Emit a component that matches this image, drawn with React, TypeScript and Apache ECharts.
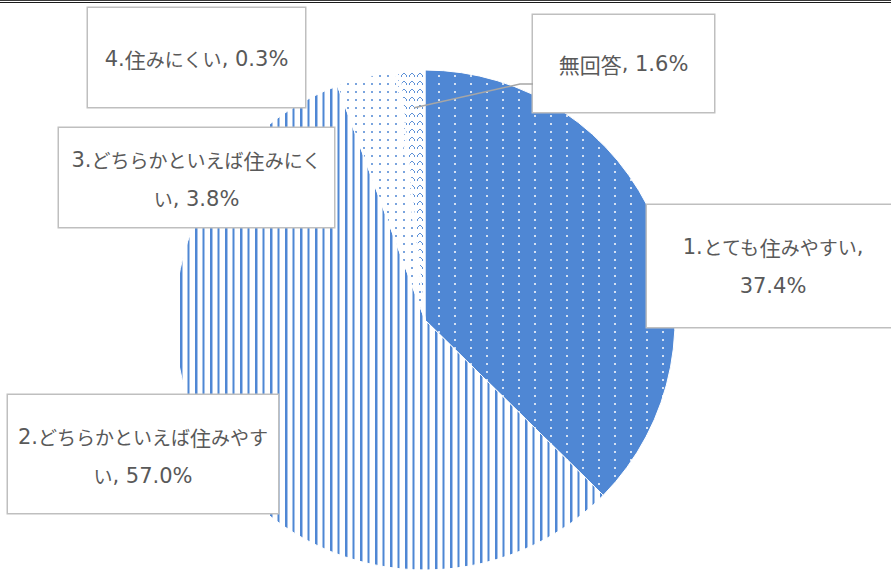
import React, { useEffect, useRef } from 'react';
import * as echarts from 'echarts';

// ---- data ----
const categories = [
  '1.とても住みやすい',
  '2.どちらかといえば住みやすい',
  '3.どちらかといえば住みにくい',
  '4.住みにくい',
  '無回答',
];
const values = [37.4, 57.0, 3.8, 0.3, 1.6];

// ---- layout (label boxes, px) ----
const labelBoxes = [
  { x: 647, y: 205, w: 252, padT: 22, padB: 22, wrap: 11, line: false },
  { x: 8, y: 395, w: 270, padT: 22, padB: 18, wrap: 14, line: false },
  { x: 59, y: 128, w: 275, padT: 12, padB: 9, wrap: 14, line: false },
  { x: 88, y: 8, w: 217, padT: 31, padB: 29, wrap: 0, line: false },
  { x: 533, y: 15, w: 181, padT: 29, padB: 29, wrap: 0, line: true },
];
const CENTER = [425, 320];
const RADIUS = 250;
const BLUE = '#4F87D4';
const TEXT = '#595959';
const CJK = '"Noto Sans CJK JP", sans-serif';

function makePattern(w: number, h: number, draw: (ctx: CanvasRenderingContext2D) => void) {
  const c = document.createElement('canvas');
  c.width = w;
  c.height = h;
  const ctx = c.getContext('2d')!;
  draw(ctx);
  return { image: c.toDataURL(), repetition: 'repeat', imageWidth: w, imageHeight: h } as any;
}

function toRich(s: string) {
  return s.replace(
    /([\u4E00-\u9FFF]+)|([\u3040-\u30FF]+)|([^\u3040-\u30FF\u4E00-\u9FFF\n]+)/g,
    (_m, k, h, l) => (k ? `{k|${k}}` : h ? `{h|${h}}` : `{l|${l}}`)
  );
}

export default function App() {
  const ref = useRef<HTMLDivElement>(null);
  useEffect(() => {
    if (!ref.current) return;
    const chart = echarts.init(ref.current, undefined, { renderer: 'svg' });

    const p1 = makePattern(16, 8, (ctx) => {
      ctx.fillStyle = BLUE;
      ctx.fillRect(0, 0, 16, 8);
      ctx.fillStyle = '#D3E0F3';
      ctx.fillRect(6, 3, 2, 2);
    });
    const p2 = makePattern(15, 8, (ctx) => {
      ctx.fillStyle = '#FFFFFF';
      ctx.fillRect(0, 0, 15, 8);
      ctx.fillStyle = BLUE;
      ctx.fillRect(0, 0, 2, 8);
      ctx.fillRect(7.5, 0, 2, 8);
      ctx.fillStyle = '#A8C3EA';
      ctx.fillRect(2, 0, 1, 8);
    });
    const p3 = makePattern(8, 8, (ctx) => {
      ctx.fillStyle = '#FFFFFF';
      ctx.fillRect(0, 0, 8, 8);
      ctx.fillStyle = '#7AA4DE';
      ctx.fillRect(3, 3, 2, 2);
    });
    const p4 = makePattern(6, 6, (ctx) => {
      ctx.fillStyle = '#FFFFFF';
      ctx.fillRect(0, 0, 6, 6);
      ctx.fillStyle = '#8FB2E4';
      ctx.fillRect(2, 2, 1, 1);
    });
    const p5 = makePattern(8, 8, (ctx) => {
      ctx.fillStyle = '#FFFFFF';
      ctx.fillRect(0, 0, 8, 8);
      ctx.fillStyle = '#5E92D8';
      ctx.fillRect(3, 1, 2, 1);
      ctx.fillRect(2, 2, 1, 1);
      ctx.fillRect(5, 2, 1, 1);
      ctx.fillRect(1, 3, 1, 2);
      ctx.fillRect(6, 3, 1, 2);
    });
    const patterns = [p1, p2, p3, p4, p5];

    const data = categories.map((name, i) => {
      const b = labelBoxes[i];
      return {
        name,
        value: values[i],
        itemStyle: { color: patterns[i] },
        label: {
          width: b.w,
          padding: [b.padT, 0, b.padB, 0],
        },
      };
    });

    // leader line for labels flagged with `line`, from the slice's mid angle
    const total = values.reduce((a, v) => a + v, 0);
    const leaders: any[] = [];
    let acc = 0;
    values.forEach((v, i) => {
      const b = labelBoxes[i];
      const mid = ((acc + v / 2) / total) * Math.PI * 2;
      acc += v;
      if (!b.line) return;
      const r = RADIUS * 0.85;
      const sx = CENTER[0] + r * Math.sin(mid);
      const sy = CENTER[1] - r * Math.cos(mid);
      const ey = b.y + 69;
      leaders.push({
        type: 'polyline',
        z: 100,
        silent: true,
        shape: { points: [[sx, sy], [b.x - 13, ey], [b.x, ey]] },
        style: { stroke: '#A6A6A6', lineWidth: 1.5, fill: null },
      });
    });

    const richBase = { lineHeight: 39, color: TEXT };

    chart.setOption({
      animation: false,
      backgroundColor: '#FFFFFF',
      graphic: [
        { type: 'rect', shape: { x: 0, y: 0, width: 891, height: 1 }, style: { fill: '#3A3A3A' }, silent: true },
        { type: 'rect', shape: { x: 0, y: 2, width: 891, height: 1 }, style: { fill: '#1A1A1A' }, silent: true },
        ...leaders,
      ],
      series: [
        {
          type: 'pie',
          center: CENTER,
          radius: RADIUS,
          startAngle: 90,
          clockwise: true,
          silent: true,
          avoidLabelOverlap: false,
          emphasis: { disabled: true },
          itemStyle: { borderColor: '#FFFFFF', borderWidth: 1 },
          label: {
            show: true,
            position: 'outside',
            color: TEXT,
            fontSize: 19,
            lineHeight: 39,
            fontFamily: CJK,
            align: 'center',
            backgroundColor: '#FFFFFF',
            borderColor: '#BFBFBF',
            borderWidth: 1.5,
            formatter: (p: any) => {
              const s = `${p.name}, ${Number(p.value).toFixed(1)}%`;
              const n = labelBoxes[p.dataIndex].wrap;
              const t = n ? s.slice(0, n) + '\n' + s.slice(n).trim() : s;
              return toRich(t);
            },
            rich: {
              k: { ...richBase, fontSize: 21, fontFamily: CJK },
              h: { ...richBase, fontSize: 19, fontFamily: CJK },
              l: { ...richBase, fontSize: 21, fontFamily: '"DejaVu Sans", sans-serif' },
            },
          },
          labelLine: { show: false },
          labelLayout: (params: any) => {
            const b = labelBoxes[params.dataIndex];
            return {
              x: b.x + b.w / 2,
              y: b.y,
              align: 'center',
              verticalAlign: 'top',
            };
          },
          data,
        },
      ],
    });

    return () => chart.dispose();
  }, []);

  return (
    <div
      ref={ref}
      style={{ position: 'absolute', left: 0, top: 0, width: 891, height: 571, background: '#fff' }}
    />
  );
}
